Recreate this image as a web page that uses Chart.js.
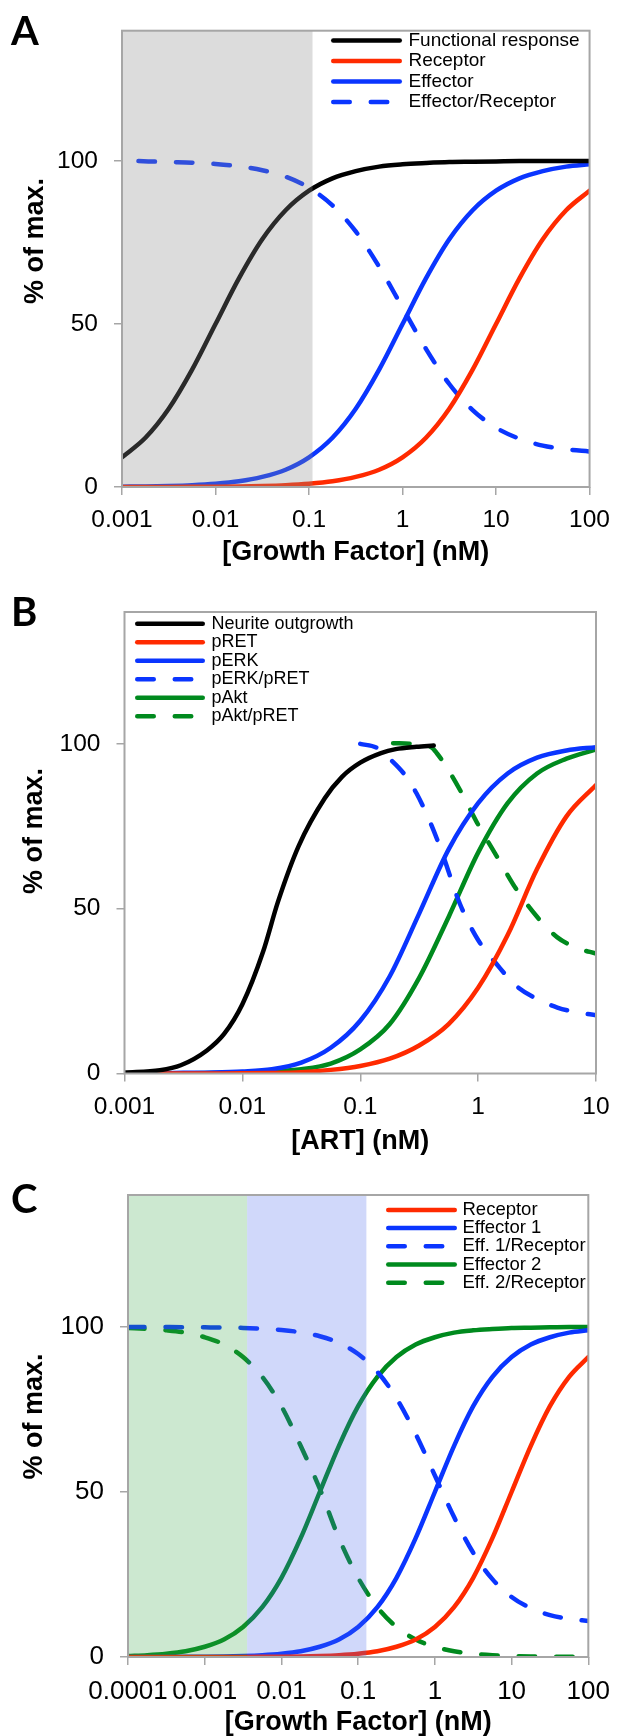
<!DOCTYPE html>
<html lang="en">
<head>
<meta charset="UTF-8" />
<title>Growth factor response curves</title>
<script src="https://cdn.jsdelivr.net/npm/chart.js"></script>
<style>
  body { margin: 0; background: #fff; width: 621px; height: 1736px; position: relative; overflow: hidden; }
  .panel { position: absolute; left: 0; width: 621px; }
  .panel canvas { display: block; }
  .letter { position: absolute; left: 11px; font: bold 40px Lato, 'Liberation Sans', Arial, sans-serif; line-height: 40px; color: #000; }
</style>
</head>
<body>
<div class="panel" style="top:0;height:575px"><canvas id="chartA" width="621" height="575"></canvas></div>
<div class="panel" style="top:575px;height:585px"><canvas id="chartB" width="621" height="585"></canvas></div>
<div class="panel" style="top:1160px;height:576px"><canvas id="chartC" width="621" height="576"></canvas></div>
<div class="letter" style="top:10px">A</div>
<div class="letter" style="top:591px">B</div>
<div class="letter" style="top:1178px">C</div>

<script>
// ---- panel A: growth factor (nM) ----
const concA = [0.001, 0.00178, 0.00316, 0.00562, 0.01, 0.0178, 0.0316, 0.0562, 0.1, 0.178, 0.316, 0.562, 1, 1.78, 3.16, 5.62, 10, 17.8, 31.6, 56.2, 100];
const functionalA = [9.1, 15.1, 24, 36, 50, 64, 76, 84.9, 90.9, 94.7, 96.9, 98.3, 99, 99.4, 99.7, 99.8, 99.9, 100, 100, 100, 100];
const receptorA = [0.01, 0.02, 0.03, 0.06, 0.1, 0.18, 0.32, 0.56, 1.0, 1.75, 3.1, 5.3, 9.1, 15.1, 24, 36, 50, 64, 76, 84.9, 90.9];
const effectorA = [0.1, 0.18, 0.32, 0.56, 1.0, 1.75, 3.1, 5.3, 9.1, 15.1, 24, 36, 50, 64, 76, 84.9, 90.9, 94.7, 96.9, 98.3, 99.0];
const ratioConcA = [0.0015, 0.00316, 0.00562, 0.01, 0.0178, 0.0316, 0.0562, 0.1, 0.178, 0.316, 0.562, 1, 1.78, 3.16, 5.62, 10, 17.8, 31.6, 56.2, 100];
const ratioA = [100, 99.7, 99.5, 99.1, 98.4, 97.2, 95.2, 91.8, 86.4, 78.4, 67.6, 55, 42.4, 31.6, 23.6, 18.2, 14.8, 12.7, 11.6, 10.9];
const shadeA = [0.001, 0.109];

// ---- panel B: ART (nM) ----
const neuriteConcB = [0.001, 0.002, 0.003, 0.005, 0.007, 0.01, 0.015, 0.02, 0.03, 0.05, 0.07, 0.1, 0.15, 0.2, 0.3, 0.42];
const neuriteB = [0.3, 1.0, 2.5, 7, 12, 21, 37, 52, 69, 83.5, 90, 94.3, 97.2, 98.4, 99.1, 99.5];
const concB = [0.001, 0.00178, 0.00316, 0.00562, 0.01, 0.0178, 0.0316, 0.0562, 0.1, 0.178, 0.316, 0.562, 1, 1.78, 3.16, 5.62, 10];
const pRetB = [0, 0, 0.01, 0.03, 0.06, 0.15, 0.4, 1.1, 2.3, 4.5, 8.5, 15, 26, 42, 62, 78, 87.5];
const pErkB = [0.05, 0.1, 0.2, 0.3, 0.6, 1.3, 3.3, 7.8, 16, 29.5, 48.5, 68, 82, 91, 95.8, 98, 99];
const pAktB = [0.02, 0.05, 0.1, 0.15, 0.3, 0.6, 1.3, 3.0, 7.3, 15, 29, 47.5, 67, 82, 91, 95.5, 98.3];
const erkRatioConcB = [0.1, 0.14, 0.18, 0.24, 0.3, 0.4, 0.5, 0.7, 1, 1.45, 2.1, 3.2, 4.7, 7, 10];
const erkRatioB = [100, 98.7, 95.3, 90.5, 85, 75.5, 66.5, 51.5, 40.5, 33, 26.6, 22.5, 20, 18.5, 17.7];
const aktRatioConcB = [0.19, 0.27, 0.4, 0.45, 0.55, 0.72, 1, 1.45, 2.1, 3.2, 4.7, 7, 10];
const aktRatioB = [100.2, 100, 99, 97, 92.5, 85.3, 75.5, 65.7, 56, 47.3, 41.3, 38, 36.4];

// ---- panel C: growth factor (nM), two effectors ----
const concC = [0.0001, 0.000178, 0.000316, 0.000562, 0.001, 0.00178, 0.00316, 0.00562, 0.01, 0.0178, 0.0316, 0.0562, 0.1, 0.178, 0.316, 0.562, 1, 1.78, 3.16, 5.62, 10, 17.8, 31.6, 56.2, 100];
const receptorC = [0, 0, 0, 0, 0.01, 0.02, 0.03, 0.06, 0.1, 0.18, 0.32, 0.56, 1.0, 1.75, 3.1, 5.3, 9.1, 15.1, 24, 36, 50, 64, 76, 84.9, 90.9];
const effector1C = [0.01, 0.02, 0.03, 0.06, 0.1, 0.18, 0.32, 0.56, 1.0, 1.75, 3.1, 5.3, 9.1, 15.1, 24, 36, 50, 64, 76, 84.9, 90.9, 94.7, 96.9, 98.3, 99.0];
const ratio1C = [100, 99.98, 99.97, 99.95, 99.9, 99.84, 99.72, 99.5, 99.1, 98.4, 97.2, 95.2, 91.8, 86.4, 78.4, 67.6, 55, 42.4, 31.6, 23.6, 18.2, 14.8, 12.7, 11.6, 10.9];
const effector2C = [0.32, 0.56, 1.0, 1.75, 3.1, 5.3, 9.1, 15.1, 24, 36, 50, 64, 76, 84.9, 90.9, 94.7, 96.9, 98.3, 99.0, 99.4, 99.7, 99.8, 99.9, 100, 100];
const ratio2C = [99.7, 99.4, 99.0, 98.3, 96.9, 94.7, 90.9, 84.9, 76, 64, 51, 36, 24, 15.1, 9.1, 5.3, 3.1, 1.75, 1.0, 0.56, 0.32, 0.18, 0.1, 0.06, 0.03];
const shadeGreenC = [0.0001, 0.00357];
const shadeBlueC = [0.00357, 0.128];

// ---- axes ----
const ticksA = [0.001, 0.01, 0.1, 1, 10, 100];
const ticksB = [0.001, 0.01, 0.1, 1, 10];
const ticksC = [0.0001, 0.001, 0.01, 0.1, 1, 10, 100];
const tickLabelsA = ['0.001', '0.01', '0.1', '1', '10', '100'];
const tickLabelsB = ['0.001', '0.01', '0.1', '1', '10'];
const tickLabelsC = ['0.0001', '0.001', '0.01', '0.1', '1', '10', '100'];
const yTicks = [0, 50, 100];

const FONT = "'Liberation Sans', Arial, sans-serif";
const RED = '#ff2a00', BLUE = '#0a35ff', GREEN = '#008a1e', BLACK = '#000000';
const AXIS_GREY = '#a6a6a6';
const DASH = [16.5, 21];

function pts(xs, ys) { return xs.map((x, i) => ({ x, y: ys[i] })); }

function line(label, xs, ys, color, dashed) {
  return {
    label, data: pts(xs, ys),
    borderColor: color, borderWidth: 4.5,
    borderDash: dashed ? DASH : [],
    borderCapStyle: 'round', borderJoinStyle: 'round',
    pointRadius: 0, fill: false,
    cubicInterpolationMode: 'monotone'
  };
}

// shading, plot frame, inset key, rotated y title
const panelDecor = {
  id: 'panelDecor',
  afterDatasetsDraw(chart, args, o) {
    const { ctx, chartArea: a } = chart;
    const xs = chart.scales.x;
    ctx.save();
    (o.shades || []).forEach(s => {
      const x1 = Math.max(a.left, xs.getPixelForValue(s.range[0]));
      const x2 = Math.min(a.right, xs.getPixelForValue(s.range[1]));
      ctx.fillStyle = s.color;
      ctx.fillRect(x1, a.top, x2 - x1, a.bottom - a.top);
    });
    ctx.strokeStyle = AXIS_GREY;
    ctx.lineWidth = 2;
    ctx.strokeRect(a.left, a.top, a.right - a.left, a.bottom - a.top);

    const k = o.key;
    ctx.font = k.size + 'px ' + FONT;
    ctx.textBaseline = 'middle';
    ctx.textAlign = 'left';
    chart.data.datasets.forEach((ds, i) => {
      const y = k.top + i * k.step;
      const w = ds.borderWidth;
      ctx.strokeStyle = ds.borderColor;
      ctx.lineWidth = w;
      ctx.lineCap = 'round';
      ctx.setLineDash(ds.borderDash);
      ctx.beginPath();
      ctx.moveTo(k.left + w / 2, y);
      ctx.lineTo(k.left + k.len - w / 2, y);
      ctx.stroke();
      ctx.setLineDash([]);
      ctx.fillStyle = '#000';
      ctx.fillText(ds.label, k.textLeft, y);
    });
    ctx.restore();
  },
  afterDraw(chart, args, o) {
    const t = o.yTitle;
    const ctx = chart.ctx;
    ctx.save();
    ctx.translate(t.x, t.y);
    ctx.rotate(-Math.PI / 2);
    ctx.font = 'bold 27px ' + FONT;
    ctx.fillStyle = '#000';
    ctx.textAlign = 'center';
    ctx.textBaseline = 'middle';
    ctx.fillText('% of max.', 0, 0);
    ctx.restore();
  }
};

function makeChart(id, p) {
  return new Chart(document.getElementById(id), {
    type: 'line',
    data: { datasets: p.datasets },
    plugins: [panelDecor],
    options: {
      responsive: false,
      animation: false,
      devicePixelRatio: 1,
      layout: { padding: { left: 0, right: p.padRight, top: p.padTop, bottom: 0 } },
      plugins: {
        legend: { display: false },
        tooltip: { enabled: false },
        panelDecor: { shades: p.shades, key: p.key, yTitle: p.yTitle }
      },
      scales: {
        x: {
          type: 'logarithmic',
          min: p.ticks[0], max: p.ticks[p.ticks.length - 1],
          afterBuildTicks: s => { s.ticks = p.ticks.map(v => ({ value: v })); },
          afterFit: s => { s.height = p.xHeight; },
          ticks: {
            autoSkip: false, maxRotation: 0, minRotation: 0, padding: 11,
            color: '#000', font: { family: FONT, size: p.tickSize },
            callback: (v, i) => p.tickLabels[i]
          },
          grid: { drawOnChartArea: false, drawTicks: true, tickLength: 8, color: AXIS_GREY, lineWidth: 1.5 },
          border: { display: false },
          title: {
            display: true, text: p.xTitle, color: '#000',
            font: { family: FONT, size: 27, weight: 'bold', lineHeight: 1 },
            padding: { top: 0, bottom: p.titlePad }
          }
        },
        y: {
          min: 0, max: 140,
          afterBuildTicks: s => { s.ticks = yTicks.map(v => ({ value: v })); },
          afterFit: s => { s.width = p.yWidth; },
          ticks: { padding: 16, color: '#000', font: { family: FONT, size: p.tickSize } },
          grid: { drawOnChartArea: false, drawTicks: true, tickLength: 8, color: AXIS_GREY, lineWidth: 1.5 },
          border: { display: false }
        }
      }
    }
  });
}

makeChart('chartA', {
  datasets: [
    line('Functional response', concA, functionalA, BLACK, false),
    line('Receptor', concA, receptorA, RED, false),
    line('Effector', concA, effectorA, BLUE, false),
    line('Effector/Receptor', ratioConcA, ratioA, BLUE, true)
  ],
  shades: [{ range: shadeA, color: 'rgba(140,140,140,0.3)' }],
  ticks: ticksA, tickLabels: tickLabelsA, tickSize: 24.5,
  xTitle: '[Growth Factor] (nM)', titlePad: 8.5,
  padTop: 25, padRight: 27, yWidth: 122, xHeight: 88,
  key: { left: 331, len: 71, textLeft: 408.5, top: 40.5, step: 20.5, size: 19 },
  yTitle: { x: 35.5, y: 241 }
});

makeChart('chartB', {
  datasets: [
    line('Neurite outgrowth', neuriteConcB, neuriteB, BLACK, false),
    line('pRET', concB, pRetB, RED, false),
    line('pERK', concB, pErkB, BLUE, false),
    line('pERK/pRET', erkRatioConcB, erkRatioB, BLUE, true),
    line('pAkt', concB, pAktB, GREEN, false),
    line('pAkt/pRET', aktRatioConcB, aktRatioB, GREEN, true)
  ],
  shades: [],
  ticks: ticksB, tickLabels: tickLabelsB, tickSize: 24.5,
  xTitle: '[ART] (nM)', titlePad: 4.5,
  padTop: 37, padRight: 25, yWidth: 124.5, xHeight: 86.5,
  key: { left: 135, len: 70, textLeft: 211.5, top: 48.8, step: 18.5, size: 18 },
  yTitle: { x: 35, y: 256 }
});

makeChart('chartC', {
  datasets: [
    line('Receptor', concC, receptorC, RED, false),
    line('Effector 1', concC, effector1C, BLUE, false),
    line('Eff. 1/Receptor', concC, ratio1C, BLUE, true),
    line('Effector 2', concC, effector2C, GREEN, false),
    line('Eff. 2/Receptor', concC, ratio2C, GREEN, true)
  ],
  shades: [
    { range: shadeGreenC, color: 'rgba(51,163,67,0.25)' },
    { range: shadeBlueC, color: 'rgba(67,99,235,0.25)' }
  ],
  ticks: ticksC, tickLabels: tickLabelsC, tickSize: 26,
  xTitle: '[Growth Factor] (nM)', titlePad: 0,
  padTop: 35, padRight: 20, yWidth: 128, xHeight: 79,
  key: { left: 386, len: 71, textLeft: 462.5, top: 49.9, step: 18.2, size: 18.5 },
  yTitle: { x: 35, y: 256.6 }
});
</script>
</body>
</html>
